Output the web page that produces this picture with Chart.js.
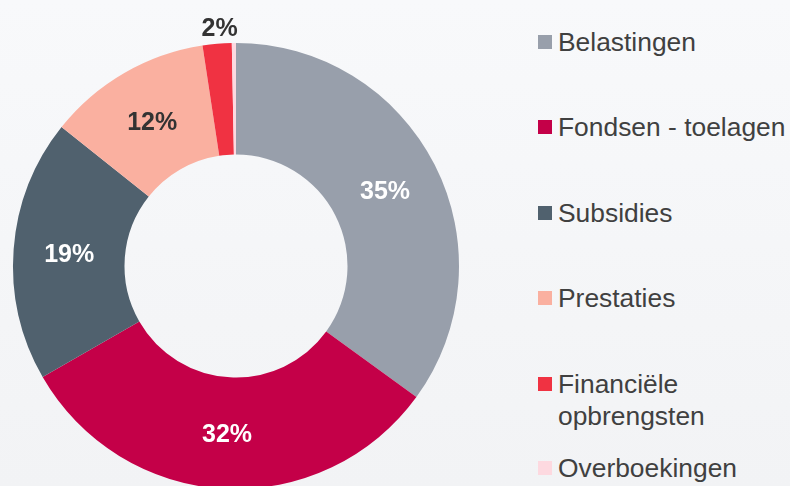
<!DOCTYPE html>
<html>
<head>
<meta charset="utf-8">
<script src="https://cdn.jsdelivr.net/npm/chart.js@4/dist/chart.umd.min.js"></script>
<style>
  html, body { margin:0; padding:0; width:790px; height:486px; overflow:hidden;
    background: linear-gradient(#f8f9fb, #f2f3f5); font-family: "Liberation Sans", Arial, sans-serif; }
  #wrap { position:absolute; left:0; top:0; width:472px; height:500px; }
  #legend { position:absolute; left:538px; top:0; }
  .item { position:absolute; left:0; display:flex; align-items:flex-start; white-space:nowrap;
    font-size:26.4px; line-height:32px; color:#404040; }
  .sw { width:14px; height:14px; margin-top:9px; margin-right:6px; flex:none; }
</style>
</head>
<body>
<div id="wrap"><canvas id="c"></canvas></div>
<div id="legend"></div>
<script>
const categories = ["Belastingen", "Fondsen - toelagen", "Subsidies", "Prestaties", "Financiële opbrengsten", "Overboekingen"];
const legendLines = [["Belastingen"], ["Fondsen - toelagen"], ["Subsidies"], ["Prestaties"], ["Financiële", "opbrengsten"], ["Overboekingen"]];
const values = [35.0, 31.7, 19.0, 11.9, 2.1, 0.3];
const valueLabels = ["35%", "32%", "19%", "12%", "2%", ""];
const colors = ["#989fab", "#c40048", "#50616e", "#fab0a0", "#f03242", "#fdd9e0"];
const labelColors = ["#ffffff", "#ffffff", "#ffffff", "#333333", "#333333", "#333333"];
const legendTops = [26, 111, 197, 282, 368, 452];

const labelPlugin = {
  id: 'sliceLabels',
  afterDatasetsDraw(chart) {
    const ctx = chart.ctx;
    const meta = chart.getDatasetMeta(0);
    ctx.save();
    ctx.font = 'bold 25px "Liberation Sans", Arial, sans-serif';
    ctx.textAlign = 'center';
    ctx.textBaseline = 'middle';
    meta.data.forEach((arc, i) => {
      const txt = valueLabels[i];
      if (!txt) return;
      const p = arc.getProps(['x','y','startAngle','endAngle','innerRadius','outerRadius'], true);
      const mid = (p.startAngle + p.endAngle) / 2;
      let r = (p.innerRadius + p.outerRadius) / 2;
      if (values[i] < 5) r = p.outerRadius + 17;
      ctx.fillStyle = labelColors[i];
      ctx.fillText(txt, p.x + Math.cos(mid) * r + (values[i] < 5 ? 4 : 0), p.y + Math.sin(mid) * r + 2);
    });
    ctx.restore();
  }
};

new Chart(document.getElementById('c'), {
  type: 'doughnut',
  data: {
    labels: categories,
    datasets: [{ data: values, backgroundColor: colors, borderWidth: 0, hoverOffset: 0 }]
  },
  options: {
    responsive: true,
    maintainAspectRatio: false,
    animation: false,
    cutout: '50%',
    layout: { padding: { left: 13, right: 13, top: 43, bottom: 11 } },
    plugins: { legend: { display: false }, tooltip: { enabled: false } }
  },
  plugins: [labelPlugin]
});

const lg = document.getElementById('legend');
legendLines.forEach((lines, i) => {
  const d = document.createElement('div');
  d.className = 'item';
  d.style.top = legendTops[i] + 'px';
  const sw = document.createElement('span');
  sw.className = 'sw';
  sw.style.background = colors[i];
  const t = document.createElement('span');
  t.innerHTML = lines.join('<br>');
  d.appendChild(sw); d.appendChild(t);
  lg.appendChild(d);
});
</script>
</body>
</html>
